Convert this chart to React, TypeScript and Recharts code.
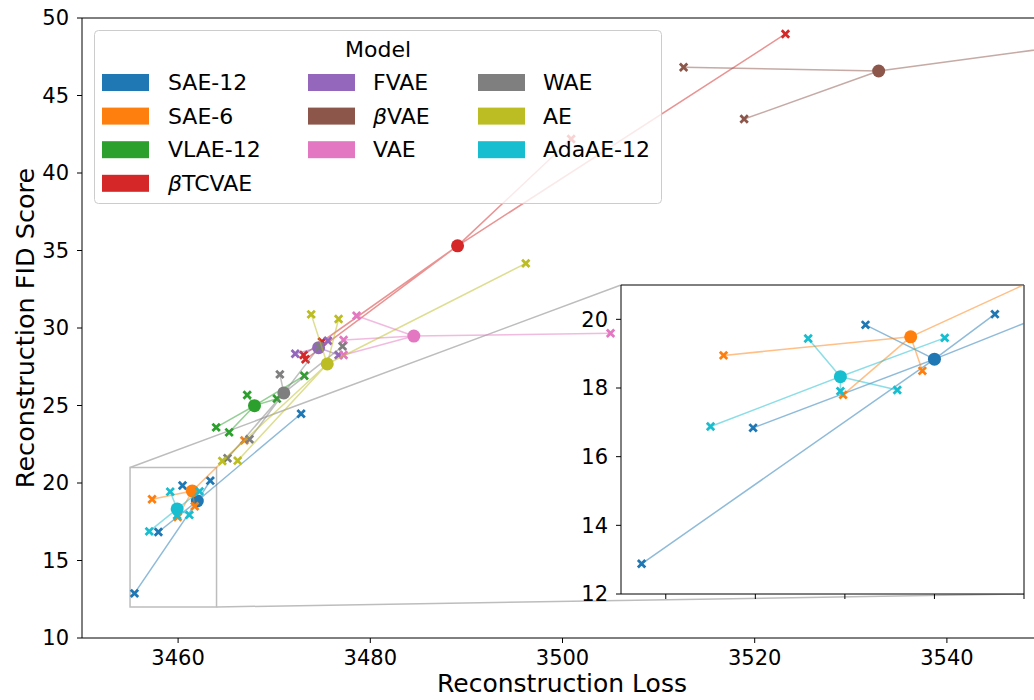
import React from 'react';
import {
  ComposedChart,
  Scatter,
  XAxis,
  YAxis,
  ReferenceLine,
  ReferenceArea,
  CartesianGrid,
} from 'recharts';

const MODELS = ['SAE-12', 'SAE-6', 'VLAE-12', 'βTCVAE', 'FVAE', 'βVAE', 'VAE', 'WAE', 'AE', 'AdaAE-12'];
const COLORS = ['#1f77b4', '#ff7f0e', '#2ca02c', '#d62728', '#9467bd', '#8c564b', '#e377c2', '#7f7f7f', '#bcbd22', '#17becf'];

// mean over runs (big dots)
const MEAN_LOSS = [3462.0, 3461.47, 3467.95, 3489.08, 3474.62, 3532.9, 3484.53, 3471.0, 3475.52, 3459.9];
const MEAN_FID = [18.84, 19.49, 24.99, 35.3, 28.73, 46.58, 29.48, 25.81, 27.68, 18.33];

// individual runs (x markers)
const RUN_LOSS = [
  [3463.35, 3460.46, 3457.95, 3455.46, 3472.8],
  [3457.29, 3461.73, 3459.96, 3466.9],
  [3467.19, 3463.96, 3465.31, 3470.28, 3473.13],
  [3523.2, 3500.9, 3473.06, 3473.26, 3474.97],
  [3472.19, 3475.59, 3476.7],
  [3512.6, 3518.9, 3567.2],
  [3505.0, 3478.57, 3477.22, 3477.22],
  [3470.59, 3477.11, 3467.43, 3465.14, 3474.7],
  [3496.18, 3473.85, 3476.7, 3464.6, 3466.2],
  [3459.18, 3462.23, 3461.17, 3459.9, 3457.0],
];
const RUN_FID = [
  [20.15, 19.84, 16.84, 12.88, 24.47],
  [18.95, 18.5, 17.8, 22.75],
  [25.68, 23.59, 23.27, 25.44, 26.92],
  [48.97, 42.19, 28.26, 27.98, 29.12],
  [28.34, 29.18, 28.26],
  [46.82, 43.48, 49.44],
  [29.66, 30.79, 29.23, 28.26],
  [27.01, 28.82, 22.82, 21.6, 28.8],
  [34.17, 30.88, 30.58, 21.42, 21.44],
  [19.44, 19.46, 17.94, 17.91, 16.88],
];

const X_TICKS = [3460, 3480, 3500, 3520, 3540];
const Y_TICKS = [10, 15, 20, 25, 30, 35, 40, 45, 50];
const INSET_X_TICKS = [3456, 3458, 3460, 3462, 3464];
const INSET_Y_TICKS = [12, 14, 16, 18, 20];

const X_DOMAIN: [number, number] = [3450, 3550];
const Y_DOMAIN: [number, number] = [10, 50];
const INSET_X_DOMAIN: [number, number] = [3455, 3464];
const INSET_Y_DOMAIN: [number, number] = [12, 21];

const FONT = '"DejaVu Sans", sans-serif';

// main plot box (page px)
const MAIN_W = 1043;
const MAIN_LEFT = 82;
const MAIN_TOP = 18;
const MAIN_PW = MAIN_W - MAIN_LEFT;
const MAIN_PH = 620;

// inset placement
const INSET_L = 560;
const INSET_T = 270;
const INSET_W = 474;
const INSET_H = 340;
const INSET_YW = 61;
const INSET_XH = 16;
const INSET_MT = 15;
const INSET_MR = 10;
const insetPlotL = INSET_L + INSET_YW;
const insetPlotR = INSET_L + INSET_W - INSET_MR;
const insetPlotT = INSET_T + INSET_MT;
const insetPlotB = INSET_T + INSET_H - INSET_XH;

const toMainX = (px: number) => X_DOMAIN[0] + ((px - MAIN_LEFT) / MAIN_PW) * (X_DOMAIN[1] - X_DOMAIN[0]);
const toMainY = (py: number) => Y_DOMAIN[1] - ((py - MAIN_TOP) / MAIN_PH) * (Y_DOMAIN[1] - Y_DOMAIN[0]);

const XMark = ({ cx, cy, color }: any) => {
  const s = 3.7;
  return (
    <path
      d={`M${cx - s},${cy - s}L${cx + s},${cy + s}M${cx - s},${cy + s}L${cx + s},${cy - s}`}
      stroke={color}
      strokeWidth={2.8}
      fill="none"
    />
  );
};

const modelSeries = (i: number) => {
  const color = COLORS[i];
  const center = { x: MEAN_LOSS[i], y: MEAN_FID[i] };
  const runs = RUN_LOSS[i].map((x, j) => ({ x, y: RUN_FID[i][j] }));
  const star = runs.flatMap((r) => [center, r]);
  return [
    <Scatter
      key={`l${i}`}
      data={star}
      fill={color}
      line={{ stroke: color, strokeWidth: 1.5, strokeOpacity: 0.5 }}
      shape={() => <g />}
      isAnimationActive={false}
    />,
    <Scatter
      key={`r${i}`}
      data={runs}
      fill={color}
      shape={(p: any) => <XMark cx={p.cx} cy={p.cy} color={color} />}
      isAnimationActive={false}
    />,
    <Scatter
      key={`c${i}`}
      data={[center]}
      fill={color}
      shape={(p: any) => <circle cx={p.cx} cy={p.cy} r={6.5} fill={color} />}
      isAnimationActive={false}
    />,
  ];
};

const tickStyle = { fontSize: 21, fill: '#000', fontFamily: FONT };
const COL_SIZES = [4, 3, 3];
const PATCH_X = [102, 308, 478];
const TEXT_X = [168, 373, 543];

const label = (name: string) =>
  name.startsWith('β') ? (
    <>
      <tspan fontStyle="italic">β</tspan>
      {name.slice(1)}
    </>
  ) : (
    name
  );

export default function App() {
  const legendItems = MODELS.map((name, i) => {
    let c = 0;
    let r = i;
    while (r >= COL_SIZES[c]) {
      r -= COL_SIZES[c];
      c += 1;
    }
    return { name, color: COLORS[i], c, r };
  });

  return (
    <div
      style={{
        position: 'absolute',
        left: 0,
        top: 0,
        width: 1034,
        height: 700,
        overflow: 'hidden',
        background: '#fff',
        fontFamily: FONT,
      }}
    >
      <div style={{ position: 'absolute', left: 0, top: 0 }}>
        <ComposedChart width={MAIN_W} height={700} margin={{ top: MAIN_TOP, right: 0, bottom: 0, left: 0 }}>
          <XAxis
            dataKey="x"
            type="number"
            domain={X_DOMAIN}
            ticks={X_TICKS}
            allowDataOverflow
            height={62}
            tickSize={5}
            tickMargin={7}
            stroke="#000"
            tick={tickStyle}
          />
          <YAxis
            dataKey="y"
            type="number"
            domain={Y_DOMAIN}
            ticks={Y_TICKS}
            allowDataOverflow
            width={MAIN_LEFT}
            tickSize={5}
            tickMargin={8}
            stroke="#000"
            tick={tickStyle}
          />
          <ReferenceLine y={50} stroke="#000" strokeWidth={1} />
          <ReferenceArea x1={3455} x2={3464} y1={12} y2={21} fill="none" fillOpacity={0} stroke="#bdbdbd" strokeWidth={1.5} />
          <ReferenceLine
            segment={[{ x: 3455, y: 21 }, { x: toMainX(insetPlotL), y: toMainY(insetPlotT) }]}
            stroke="#bdbdbd"
            strokeWidth={1.5}
          />
          <ReferenceLine
            segment={[{ x: 3464, y: 12 }, { x: toMainX(insetPlotR), y: toMainY(insetPlotB) }]}
            stroke="#bdbdbd"
            strokeWidth={1.5}
          />
          {MODELS.flatMap((_, i) => modelSeries(i))}
        </ComposedChart>
      </div>

      <svg width={1034} height={700} style={{ position: 'absolute', left: 0, top: 0, pointerEvents: 'none' }} fontFamily={FONT}>
        <rect x={94.5} y={30.5} width={567} height={173} rx={4} fill="#fff" fillOpacity={0.8} stroke="#cccccc" />
        <text x={378} y={49} textAnchor="middle" dominantBaseline="central" fontSize={22}>
          Model
        </text>
        {legendItems.map((it) => {
          const cy = 82.5 + it.r * 33.6;
          return (
            <g key={it.name}>
              <rect x={PATCH_X[it.c]} y={cy - 8.5} width={47} height={17} fill={it.color} />
              <text x={TEXT_X[it.c]} y={cy} dominantBaseline="central" fontSize={22}>
                {label(it.name)}
              </text>
            </g>
          );
        })}
        <text x={562} y={692} textAnchor="middle" fontSize={25}>
          Reconstruction Loss
        </text>
        <text x={33.5} y={328} textAnchor="middle" fontSize={25.5} transform="rotate(-90 33.5 328)">
          Reconstruction FID Score
        </text>
      </svg>

      <div style={{ position: 'absolute', left: INSET_L, top: INSET_T }}>
        <ComposedChart width={INSET_W} height={INSET_H} margin={{ top: INSET_MT, right: INSET_MR, bottom: 0, left: 0 }}>
          <CartesianGrid fill="#fff" fillOpacity={1} horizontal={false} vertical={false} />
          <XAxis
            dataKey="x"
            type="number"
            domain={INSET_X_DOMAIN}
            ticks={INSET_X_TICKS}
            allowDataOverflow
            height={INSET_XH}
            tickSize={5}
            stroke="#000"
            tickFormatter={() => ''}
          />
          <YAxis
            dataKey="y"
            type="number"
            domain={INSET_Y_DOMAIN}
            ticks={INSET_Y_TICKS}
            allowDataOverflow
            width={INSET_YW}
            tickSize={5}
            tickMargin={8}
            stroke="#000"
            tick={tickStyle}
          />
          {MODELS.flatMap((_, i) => modelSeries(i))}
          <ReferenceLine y={21} stroke="#000" strokeWidth={1} />
          <ReferenceLine x={3464} stroke="#000" strokeWidth={1} />
        </ComposedChart>
      </div>
    </div>
  );
}
